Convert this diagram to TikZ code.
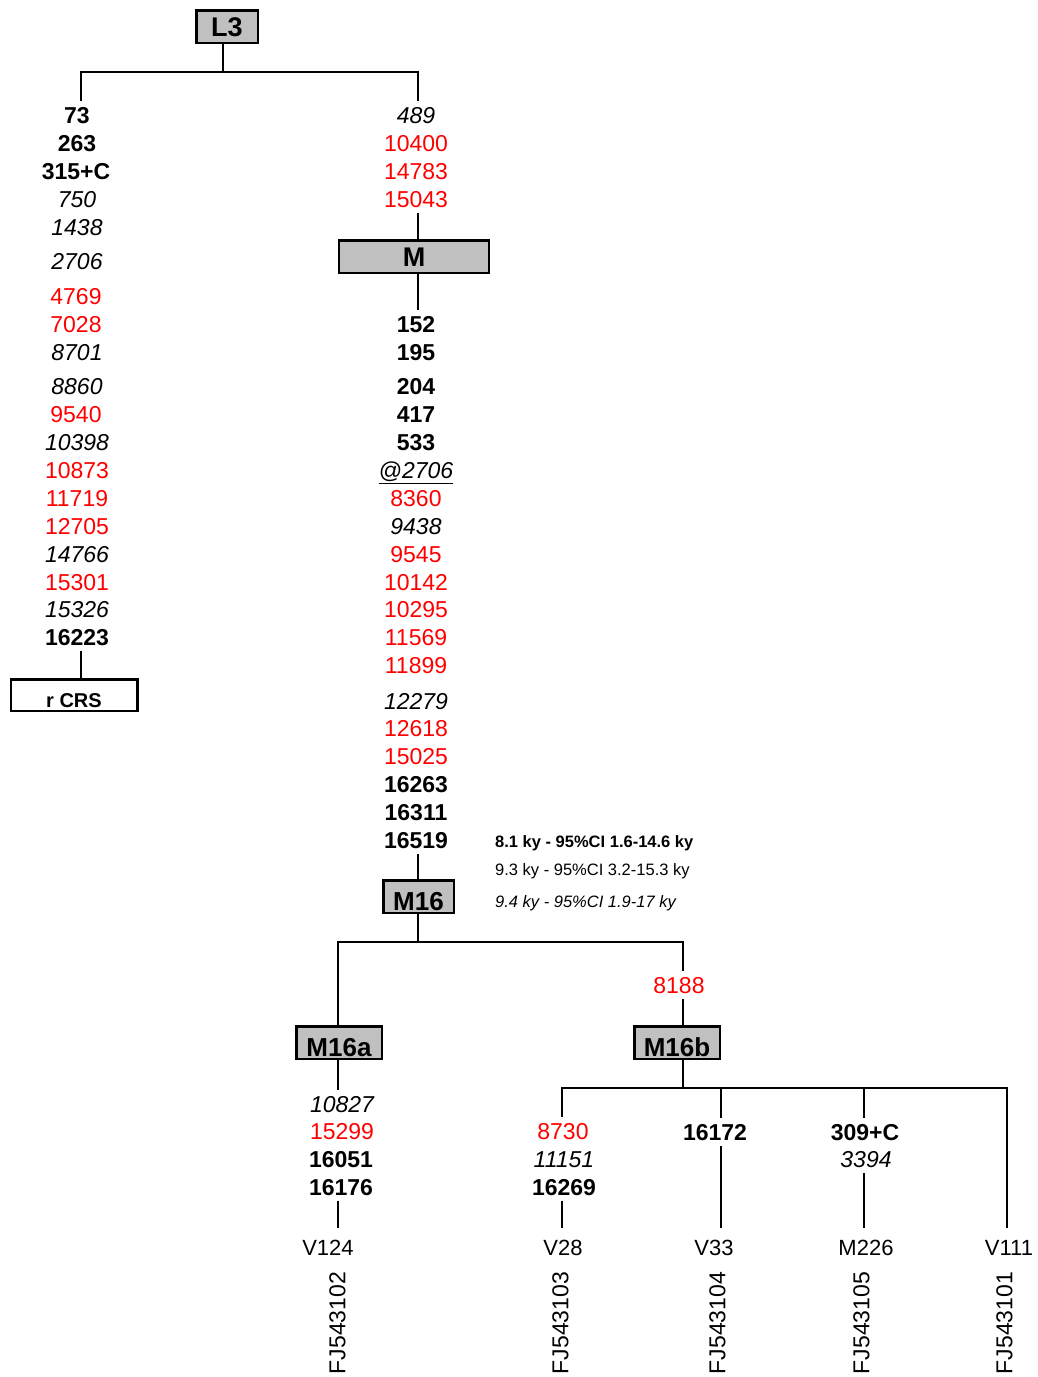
\documentclass[tikz,border=0pt]{standalone}
\usepackage{fontspec}
\setmainfont{Liberation Sans}
\definecolor{boxgray}{HTML}{C0C0C0}
\definecolor{mutred}{HTML}{FF0000}
\newcommand\fnum{\fontsize{23}{27}\selectfont}
\newcommand\fleaf{\fontsize{22}{26}\selectfont}
\newcommand\fnote{\fontsize{16.5}{19}\selectfont}
\begin{document}
\begin{tikzpicture}[x=1pt,y=-1pt,
  conn/.style={line width=2pt},
  hbox/.style={draw, line width=2.5pt, fill=boxgray, inner sep=0pt, minimum height=32.5pt,
    font=\fontsize{27}{31}\selectfont\bfseries, text height=19.3pt, text depth=0pt},
  lowbox/.style={hbox, font=\fontsize{26}{30}\selectfont\bfseries, text height=27.6pt},
  crsbox/.style={draw, line width=2.5pt, inner sep=0pt, minimum width=126.5pt, minimum height=31.5pt,
    font=\fontsize{20}{24}\selectfont\bfseries, text height=24.3pt, text depth=0pt},
  num/.style={inner sep=0pt, outer sep=6pt, font=\fnum, text height=16.5pt, text depth=0pt},
  nb/.style={num, font=\fnum\bfseries},
  ni/.style={num, font=\fnum\itshape},
  nr/.style={num, text=mutred},
  leaf/.style={inner sep=0pt, outer sep=12pt, font=\fleaf, text height=15.8pt, text depth=0pt},
  acc/.style={inner sep=0pt, font=\fnum, text height=16.5pt, text depth=0pt, rotate=90},
  note/.style={inner sep=0pt, anchor=west, font=\fnote, text height=11.8pt, text depth=0pt}
]
\useasboundingbox (0,0) rectangle (1037,1377);

% x positions of connectors
\coordinate (xL) at (81,0);
\coordinate (xR) at (418,0);
\coordinate (xA) at (338,0);
\coordinate (xB) at (683,0);
\coordinate (xC) at (562,0);
\coordinate (xD) at (721,0);
\coordinate (xE) at (864,0);
\coordinate (xF) at (1007,0);
\coordinate (jL3) at (223,72);
\coordinate (jM16) at (418,942);
\coordinate (jM16b) at (683,1088);

% boxes
\node[hbox, minimum width=61.5pt] (L3) at (227,26.5) {L3};
\node[hbox, minimum width=150pt] (M) at (414,256.5) {M};
\node[lowbox, minimum width=70.5pt] (M16) at (418.5,896.5) {M16};
\node[lowbox, minimum width=85.5pt] (M16a) at (339,1042.5) {M16a};
\node[lowbox, minimum width=85.5pt] (M16b) at (677,1042.5) {M16b};
\node[crsbox] (rcrs) at (74,695) {r CRS};

% left column (L3 -> rCRS)
\node[nb] (l1) at (77,115) {73};
\node[nb] (l2) at (77,143) {263};
\node[nb] (l3) at (76,171) {315+C};
\node[ni] (l4) at (77,199) {750};
\node[ni] (l5) at (77,227) {1438};
\node[ni] (l6) at (77,261) {2706};
\node[nr] (l7) at (76,296) {4769};
\node[nr] (l8) at (76,324) {7028};
\node[ni] (l9) at (77,352) {8701};
\node[ni] (l10) at (77,386) {8860};
\node[nr] (l11) at (76,414) {9540};
\node[ni] (l12) at (77,442) {10398};
\node[nr] (l13) at (77,470) {10873};
\node[nr] (l14) at (77,498) {11719};
\node[nr] (l15) at (77,526) {12705};
\node[ni] (l16) at (77,554) {14766};
\node[nr] (l17) at (77,582) {15301};
\node[ni] (l18) at (77,609) {15326};
\node[nb] (l19) at (77,637) {16223};

% right column (L3 -> M)
\node[ni] (r1) at (416,115) {489};
\node[nr] (r2) at (416,143) {10400};
\node[nr] (r3) at (416,171) {14783};
\node[nr] (r4) at (416,199) {15043};

% M -> M16
\node[nb] (m1) at (416,324) {152};
\node[nb] (m2) at (416,352) {195};
\node[nb] (m3) at (416,386) {204};
\node[nb] (m4) at (416,414) {417};
\node[nb] (m5) at (416,442) {533};
\node[ni] (m6) at (416,470) {\underline{@2706}};
\node[nr] (m7) at (416,498) {8360};
\node[ni] (m8) at (416,526) {9438};
\node[nr] (m9) at (416,554) {9545};
\node[nr] (m10) at (416,582) {10142};
\node[nr] (m11) at (416,609) {10295};
\node[nr] (m12) at (416,637) {11569};
\node[nr] (m13) at (416,665) {11899};
\node[ni] (m14) at (416,701) {12279};
\node[nr] (m15) at (416,728) {12618};
\node[nr] (m16) at (416,756) {15025};
\node[nb] (m17) at (416,784) {16263};
\node[nb] (m18) at (416,812) {16311};
\node[nb] (m19) at (416,840) {16519};

% age estimates
\node[note, font=\fnote\bfseries] (age1) at (495,842) {8.1 ky - 95\%CI 1.6-14.6 ky};
\node[note] (age2) at (495,870) {9.3 ky - 95\%CI 3.2-15.3 ky};
\node[note, font=\fnote\itshape] (age3) at (495,902) {9.4 ky - 95\%CI 1.9-17 ky};

% M16 branches
\node[nr] (n8188) at (679,985) {8188};
\node[ni] (a1) at (342,1104) {10827};
\node[nr] (a2) at (342,1131) {15299};
\node[nb] (a3) at (341,1159) {16051};
\node[nb] (a4) at (341,1187) {16176};
\node[nr] (b1) at (563,1131) {8730};
\node[ni] (b2) at (564,1159) {11151};
\node[nb] (b3) at (564,1187) {16269};
\node[nb] (c1) at (715,1132) {16172};
\node[nb] (d1) at (865,1132) {309+C};
\node[ni] (d2) at (866,1159) {3394};

% leaves
\node[leaf] (v124) at (328,1248) {V124};
\node[leaf] (v28) at (563,1248) {V28};
\node[leaf] (v33) at (714,1248) {V33};
\node[leaf] (m226) at (866,1248) {M226};
\node[leaf] (v111) at (1009,1248) {V111};
\node[acc] (fj102) at (337,1323) {FJ543102};
\node[acc] (fj103) at (560,1323) {FJ543103};
\node[acc] (fj104) at (717,1323) {FJ543104};
\node[acc] (fj105) at (861,1323) {FJ543105};
\node[acc] (fj101) at (1004,1323) {FJ543101};

% connectors
\draw[conn] (L3.south -| jL3) -- (jL3);
\draw[conn] (l1.north -| xL) |- (jL3) -| (r1.north -| xR);
\draw[conn] (r4.south -| xR) -- (M.north -| xR);
\draw[conn] (M.south -| xR) -- (m1.north -| xR);
\draw[conn] (l19.south -| xL) -- (rcrs.north -| xL);
\draw[conn] (m19.south -| xR) -- (M16.north -| xR);
\draw[conn] (M16.south -| xR) -- (jM16);
\draw[conn] (M16a.north -| xA) |- (jM16) -| (n8188.north -| xB);
\draw[conn] (n8188.south -| xB) -- (M16b.north -| xB);
\draw[conn] (M16a.south -| xA) -- (a1.north -| xA);
\draw[conn] (a4.south -| xA) -- (v124.north -| xA);
\draw[conn] (M16b.south -| xB) -- (jM16b);
\draw[conn] (b1.north -| xC) |- (jM16b) -| (v111.north -| xF);
\draw[conn] (jM16b -| xD) -- (c1.north -| xD);
\draw[conn] (jM16b -| xE) -- (d1.north -| xE);
\draw[conn] (b3.south -| xC) -- (v28.north -| xC);
\draw[conn] (c1.south -| xD) -- (v33.north -| xD);
\draw[conn] (d2.south -| xE) -- (m226.north -| xE);
\end{tikzpicture}
\end{document}
